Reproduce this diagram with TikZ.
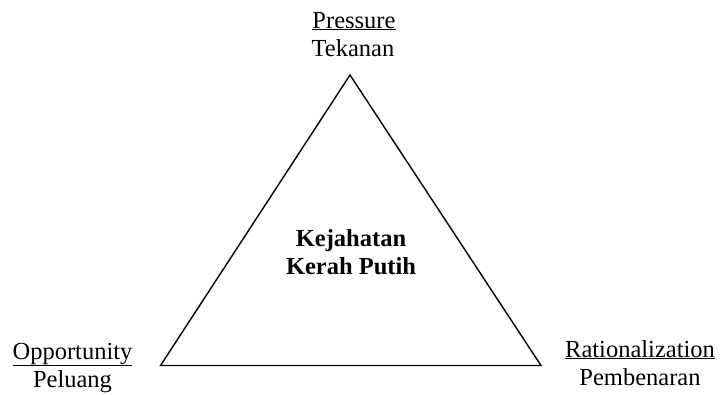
\documentclass[tikz,border=0pt]{standalone}
\usepackage{fontspec}
\setmainfont{Liberation Serif}
\begin{document}
\begin{tikzpicture}[x=1bp,y=-1bp]
\tikzset{
  lbl/.style={anchor=base, inner sep=0pt, font=\fontsize{24.5bp}{28bp}\selectfont},
  ctr/.style={lbl, font=\fontsize{24.5bp}{28bp}\selectfont\bfseries},
  tri/.style={draw=black, line width=1.4bp, line join=miter}
}
\useasboundingbox (0,0) rectangle (720,394);
\coordinate (A) at (350,75);
\coordinate (B) at (160.5,365.5);
\coordinate (C) at (541,365.5);
\draw[tri] (A) -- (B) -- (C) -- cycle;
\node[lbl] (p1) at (354,28) {\underline{Pressure}};
\node[lbl] (p2) at (353,56.5) {Tekanan};
\node[lbl] (o1) at (72.5,359) {\underline{Opportunity}};
\node[lbl] (o2) at (72.5,387) {Peluang};
\node[lbl] (r1) at (640,357) {\underline{Rationalization}};
\node[lbl] (r2) at (640,385) {Pembenaran};
\node[ctr] (k1) at (351,246) {Kejahatan};
\node[ctr] (k2) at (351,274) {Kerah Putih};
\end{tikzpicture}
\end{document}
